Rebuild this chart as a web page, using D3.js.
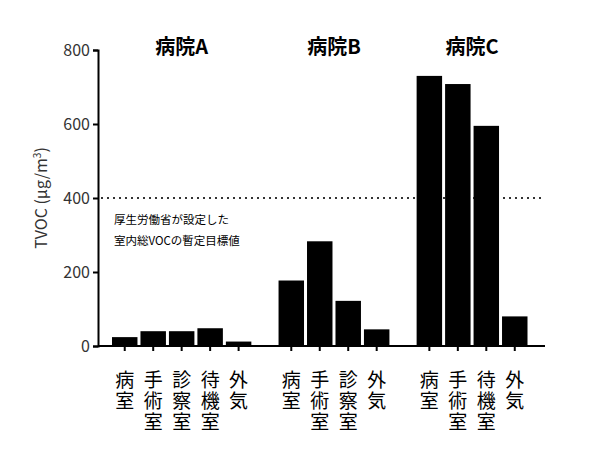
<!DOCTYPE html>
<html><head><meta charset="utf-8">
<script src="https://cdn.jsdelivr.net/npm/d3@7"></script>
<style>body{margin:0;background:#fff}text{font-family:"Noto Sans CJK JP",sans-serif}</style>
</head><body>
<svg id="c" width="600" height="460"></svg>
<script>
// data
const hospitals = ['病院A', '病院B', '病院C']
const rooms = [
  ['病室', '手術室', '診察室', '待機室', '外気'],
  ['病室', '手術室', '診察室', '外気'],
  ['病室', '手術室', '待機室', '外気']
]
const values = [
  [24, 40, 40, 48, 12],
  [177, 283, 122, 45],
  [730, 708, 595, 80]
]
const guideline = 400
const yTicks = [0, 200, 400, 600, 800]

const svg = d3.select('#c')
const x0 = 98, x1 = 545
// positions of slots: groups separated by a gap
const slots = []
let s = 0
values.forEach((g, gi) => {
  g.forEach((v, i) => slots.push({ slot: s++, g: gi, room: rooms[gi][i], v }))
  s += 0.85
})
const x = d3.scaleLinear().domain([0, s - 0.85]).range([112, 530.5])
const slotW = x(1) - x(0)
const y = d3.scaleLinear().domain([0, 800]).range([346, 50])

const yAxis = svg.append('g').attr('transform', `translate(${x0},0)`)
  .call(d3.axisLeft(y).tickValues(yTicks).tickSize(5).tickPadding(3))
yAxis.selectAll('text').attr('font-family', 'Liberation Sans, Arial').attr('font-size', 16).attr('fill', '#333')
yAxis.selectAll('line,path').attr('stroke', '#000').attr('stroke-width', 2)

svg.append('line').attr('x1', x0).attr('x2', x1).attr('y1', y(0)).attr('y2', y(0))
  .attr('stroke', '#000').attr('stroke-width', 2)

svg.append('line').attr('x1', x0 + 3).attr('x2', x1).attr('y1', y(guideline)).attr('y2', y(guideline))
  .attr('stroke', '#333').attr('stroke-width', 2).attr('stroke-dasharray', '2,4')

svg.selectAll('rect.bar').data(slots).join('rect')
  .attr('x', d => x(d.slot)).attr('width', slotW - 3)
  .attr('y', d => y(d.v)).attr('height', d => y(0) - y(d.v))
  .attr('fill', '#000')

// x ticks
svg.selectAll('line.xt').data(slots).join('line')
  .attr('x1', d => x(d.slot) + (slotW - 3) / 2).attr('x2', d => x(d.slot) + (slotW - 3) / 2)
  .attr('y1', y(0)).attr('y2', y(0) + 5).attr('stroke', '#000').attr('stroke-width', 2)

// vertical room labels
slots.forEach(d => {
  const cx = x(d.slot) + (slotW - 3) / 2
  const t = svg.append('text').attr('x', cx).attr('y', 387).attr('text-anchor', 'middle')
    .attr('font-size', 19).attr('fill', '#000')
  Array.from(d.room).forEach((ch, k) => {
    t.append('tspan').attr('x', cx).attr('dy', k === 0 ? 0 : 21).text(ch)
  })
})

// group titles
hospitals.forEach((h, gi) => {
  const g = slots.filter(d => d.g === gi)
  const cx = (x(g[0].slot) + x(g[g.length - 1].slot + 1) - 3) / 2
  svg.append('text').attr('x', cx).attr('y', 54).attr('text-anchor', 'middle')
    .attr('font-size', 20).attr('font-weight', 'bold').attr('fill', '#000').text(h)
})

svg.append('text').attr('x', 114).attr('y', 224).attr('font-size', 11.5).text('厚生労働省が設定した')
svg.append('text').attr('x', 114).attr('y', 245).attr('font-size', 11.5).text('室内総VOCの暫定目標値')

const yl = svg.append('text').attr('transform', 'translate(47,198) rotate(-90)').attr('text-anchor', 'middle')
  .attr('font-family', 'Liberation Sans, Arial').attr('font-size', 16).attr('fill', '#333')
yl.append('tspan').text('TVOC (μg/m')
yl.append('tspan').attr('font-size', 10).attr('dy', -6).text('3')
yl.append('tspan').attr('dy', 6).text(')')
</script>
</body></html>
